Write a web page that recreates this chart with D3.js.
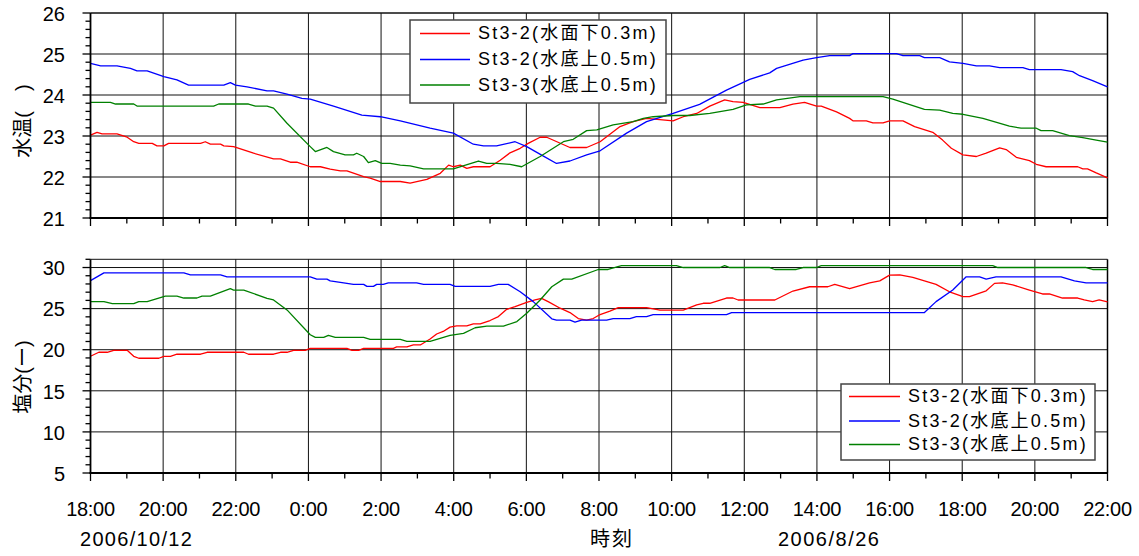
<!DOCTYPE html>
<html><head><meta charset="utf-8">
<script src="https://cdn.jsdelivr.net/npm/d3@7/dist/d3.min.js"></script>
<style>body{margin:0;background:#fff}text{font-family:"Liberation Sans","Noto Sans CJK JP",Arial,sans-serif;fill:#000}</style>
</head><body><svg id="c" width="1139" height="556"></svg>
<script>
// ---- data (x = hours after 18:00 on the first day) ----
const xTickLabels = ["18:00","20:00","22:00","0:00","2:00","4:00","6:00","8:00","10:00","12:00","14:00","16:00","18:00","20:00","22:00"];
const dateLabels = ["2006/10/12","時刻","2006/8/26"];
const seriesNames = ["St3-2(水面下0.3m)","St3-2(水底上0.5m)","St3-3(水底上0.5m)"];
const seriesColors = ["#ff0000","#0000ff","#008000"];
const yTitles = ["水温(　)","塩分(ー)"];
const tempTicks = [21,22,23,24,25,26];
const salTicks = [5,10,15,20,25,30];

const tempRed = [[0,23.02],[0.18,23.09],[0.32,23.05],[0.73,23.05],[1.01,22.97],[1.19,22.86],[1.33,22.82],[1.70,22.82],[1.83,22.76],[2.02,22.76],[2.15,22.82],[3.03,22.82],[3.16,22.86],[3.30,22.80],[3.58,22.80],[3.67,22.76],[3.94,22.74],[4.49,22.58],[5.04,22.44],[5.23,22.44],[5.50,22.36],[5.68,22.36],[6.05,22.25],[6.33,22.25],[6.60,22.19],[6.88,22.15],[7.06,22.15],[7.52,22.01],[7.70,21.97],[7.98,21.89],[8.53,21.89],[8.80,21.85],[9.26,21.94],[9.63,22.09],[9.86,22.29],[9.99,22.25],[10.18,22.29],[10.36,22.21],[10.54,22.25],[11.00,22.25],[11.28,22.41],[11.55,22.59],[11.83,22.70],[12.05,22.82],[12.38,22.97],[12.56,22.97],[13.20,22.72],[13.66,22.72],[14.03,22.86],[14.58,23.23],[14.94,23.35],[15.31,23.43],[16.04,23.37],[16.32,23.47],[16.69,23.55],[17.05,23.73],[17.46,23.88],[17.69,23.84],[17.97,23.82],[18.43,23.69],[18.98,23.69],[19.34,23.78],[19.66,23.82],[19.99,23.73],[20.12,23.73],[20.54,23.59],[20.90,23.43],[20.99,23.37],[21.36,23.37],[21.54,23.32],[21.82,23.32],[22.00,23.37],[22.37,23.37],[22.69,23.23],[23.19,23.09],[23.46,22.90],[23.70,22.70],[24.02,22.54],[24.39,22.50],[24.66,22.58],[25.03,22.71],[25.21,22.67],[25.49,22.48],[25.85,22.40],[26.04,22.31],[26.31,22.25],[27.18,22.25],[27.32,22.20],[27.45,22.20],[27.69,22.10],[28,21.98]];
const tempBlue = [[0,24.77],[0.28,24.71],[0.73,24.71],[1.10,24.65],[1.28,24.59],[1.56,24.59],[2.02,24.45],[2.38,24.37],[2.70,24.24],[3.67,24.24],[3.85,24.30],[3.99,24.24],[4.31,24.20],[4.86,24.10],[5.04,24.10],[5.41,24.02],[5.82,23.92],[6.05,23.90],[6.69,23.73],[7.47,23.51],[7.98,23.47],[8.53,23.37],[9.35,23.19],[9.99,23.07],[10.54,22.80],[10.82,22.76],[11.18,22.76],[11.69,22.86],[12.01,22.74],[12.47,22.51],[12.83,22.33],[13.20,22.39],[13.66,22.54],[14.03,22.64],[14.76,23.07],[15.31,23.35],[16.04,23.55],[16.77,23.77],[17.51,24.12],[18.15,24.38],[18.70,24.54],[18.89,24.65],[19.62,24.85],[19.99,24.91],[20.35,24.96],[20.90,24.96],[20.99,25.01],[22.19,25.01],[22.37,24.96],[22.83,24.96],[22.96,24.91],[23.38,24.91],[23.65,24.81],[24.02,24.77],[24.39,24.71],[24.75,24.71],[25.03,24.67],[25.67,24.67],[25.85,24.62],[26.72,24.62],[27.04,24.57],[27.23,24.47],[27.59,24.35],[28,24.20]];
const tempGreen = [[0,23.82],[0.55,23.82],[0.69,23.78],[1.19,23.78],[1.28,23.73],[3.39,23.73],[3.53,23.78],[4.35,23.78],[4.54,23.73],[4.86,23.73],[5.04,23.68],[5.41,23.31],[6.05,22.74],[6.19,22.62],[6.51,22.72],[6.69,22.62],[7.01,22.54],[7.24,22.54],[7.33,22.58],[7.52,22.50],[7.65,22.35],[7.84,22.40],[8.02,22.33],[8.25,22.33],[8.53,22.29],[8.80,22.27],[9.17,22.20],[9.99,22.20],[10.68,22.39],[10.91,22.33],[11.18,22.33],[11.55,22.31],[11.87,22.25],[12.38,22.50],[13.02,22.86],[13.29,22.92],[13.66,23.13],[13.94,23.15],[14.39,23.27],[14.94,23.35],[15.22,23.43],[15.49,23.47],[16.04,23.50],[16.50,23.50],[17.05,23.55],[17.69,23.65],[18.06,23.76],[18.52,23.78],[18.89,23.88],[19.53,23.96],[21.82,23.96],[22.09,23.90],[22.96,23.65],[23.38,23.63],[23.74,23.55],[24.02,23.53],[24.57,23.43],[25.30,23.24],[25.62,23.19],[26.04,23.19],[26.17,23.13],[26.49,23.13],[26.95,23.01],[27.32,22.96],[27.69,22.90],[28,22.85]];

const salRed = [[0,19.2],[0.23,19.69],[0.46,19.69],[0.64,19.93],[1.01,19.93],[1.19,19.20],[1.33,18.96],[1.88,18.96],[2.02,19.20],[2.20,19.20],[2.38,19.45],[3.03,19.45],[3.21,19.69],[4.22,19.69],[4.35,19.45],[5.04,19.45],[5.23,19.69],[5.41,19.69],[5.59,19.93],[5.91,19.93],[6.05,20.17],[7.06,20.17],[7.20,19.93],[7.38,19.93],[7.52,20.17],[8.34,20.17],[8.43,20.34],[8.71,20.34],[8.89,20.58],[9.08,20.58],[9.35,21.30],[9.53,21.91],[9.71,22.22],[9.90,22.75],[10.08,22.91],[10.36,22.91],[10.54,23.15],[10.73,23.15],[11.00,23.55],[11.23,24.03],[11.46,24.92],[11.69,25.24],[12.01,25.77],[12.24,26.05],[12.42,26.25],[12.60,25.85],[12.93,25.05],[13.20,24.52],[13.43,23.79],[13.66,23.60],[13.84,23.79],[14.03,24.28],[14.30,24.69],[14.53,25.12],[15.31,25.12],[15.68,24.81],[16.32,24.81],[16.69,25.45],[16.87,25.65],[17.05,25.65],[17.51,26.29],[17.69,26.29],[17.83,26.05],[18.84,26.05],[19.34,27.14],[19.80,27.66],[20.30,27.66],[20.49,27.95],[20.90,27.42],[21.45,28.14],[21.73,28.38],[22.00,29.07],[22.28,29.11],[22.64,28.79],[22.96,28.38],[23.28,27.95],[23.65,27.05],[24.02,26.45],[24.20,26.45],[24.66,27.17],[24.89,28.07],[25.11,28.14],[25.39,27.90],[25.85,27.26],[26.21,26.78],[26.40,26.78],[26.76,26.29],[27.18,26.29],[27.36,26.05],[27.59,25.85],[27.77,26.05],[28,25.81]];
const salBlue = [[0,28.4],[0.37,29.35],[2.57,29.35],[2.75,29.11],[3.58,29.11],[3.76,28.87],[6.05,28.87],[6.23,28.59],[6.51,28.59],[6.60,28.38],[6.97,28.14],[7.24,27.95],[7.52,27.95],[7.61,27.71],[7.79,27.71],[7.88,27.95],[8.06,27.95],[8.20,28.14],[8.98,28.14],[9.17,27.95],[9.90,27.95],[10.04,27.71],[11.00,27.71],[11.23,27.95],[11.50,27.95],[11.83,27.05],[12.19,25.85],[12.70,23.76],[12.83,23.60],[13.20,23.60],[13.34,23.36],[13.52,23.60],[14.21,23.60],[14.39,23.79],[14.85,23.79],[15.03,24.03],[15.31,24.03],[15.49,24.28],[17.51,24.28],[17.65,24.52],[22.96,24.52],[23.28,25.85],[23.74,27.26],[24.11,28.87],[24.48,28.87],[24.66,28.59],[24.93,28.87],[26.72,28.87],[27.09,28.38],[27.41,28.14],[28,28.14]];
const salGreen = [[0,25.85],[0.37,25.85],[0.60,25.60],[1.19,25.60],[1.33,25.85],[1.56,25.85],[2.06,26.53],[2.38,26.53],[2.57,26.29],[2.93,26.29],[3.07,26.53],[3.30,26.53],[3.85,27.42],[3.94,27.26],[4.22,27.26],[4.86,26.25],[5.04,26.05],[5.41,24.84],[6.05,21.82],[6.19,21.50],[6.42,21.50],[6.55,21.74],[6.74,21.50],[7.52,21.50],[7.70,21.26],[8.53,21.26],[8.71,21.02],[9.35,21.02],[9.90,21.74],[10.27,21.98],[10.59,22.67],[10.91,22.87],[11.37,22.87],[11.74,23.43],[12.01,24.44],[12.38,26.05],[12.70,27.66],[13.02,28.59],[13.25,28.59],[13.98,29.76],[14.25,29.76],[14.62,30.24],[16.13,30.24],[16.32,30.0],[17.33,30.0],[17.46,30.24],[17.60,30.0],[18.70,30.0],[18.84,29.76],[19.43,29.76],[19.62,30.0],[19.99,30.0],[20.12,30.24],[24.84,30.24],[24.98,30.0],[27.41,30.0],[27.59,29.76],[28,29.76]];

// ---- drawing ----
const svg = d3.select("#c");
const x = d3.scaleLinear().domain([0,28]).range([90.5,1107.5]);
const panels = [
  {y: d3.scaleLinear().domain([21,26]).range([218,13]), major: tempTicks, minorStep: 0.2, data:[tempRed,tempBlue,tempGreen], title: yTitles[0], titleY: 121,
   legend:{x0:410,y0:20,x1:666,y1:103,rows:[33.5,59.5,85],lx0:420,lx1:470,tx:478}},
  {y: d3.scaleLinear().domain([5,31]).range([473,259.3]), major: salTicks, minorStep: 1, data:[salRed,salBlue,salGreen], title: yTitles[1], titleY: 377,
   legend:{x0:841,y0:384,x1:1095,y1:460,rows:[396.5,421,444.5],lx0:849,lx1:900,tx:908}}
];

panels.forEach((p, pi) => {
  const y = p.y;
  const [yMin, yMax] = y.domain();
  const g = svg.append("g");
  // grid
  const hours = d3.range(0, 29, 2);
  g.selectAll(".vg").data(hours.slice(1, -1)).join("line")
    .attr("x1", d => x(d)).attr("x2", d => x(d)).attr("y1", y(yMax)).attr("y2", y(yMin))
    .attr("stroke", "#111").attr("stroke-width", 1);
  g.selectAll(".hg").data(p.major.filter(v => v > yMin).concat([yMax])).join("line")
    .attr("x1", x(0)).attr("x2", x(28)).attr("y1", d => y(d)).attr("y2", d => y(d))
    .attr("stroke", "#111").attr("stroke-width", 1);
  // right border
  g.append("line").attr("x1", x(28)).attr("x2", x(28)).attr("y1", y(yMax)).attr("y2", y(yMin))
    .attr("stroke", "#000").attr("stroke-width", 1.5);
  // series
  const line = d3.line().x(d => x(d[0])).y(d => y(d[1]));
  p.data.forEach((s, i) => {
    g.append("path").datum(s).attr("d", line).attr("fill", "none")
      .attr("stroke", seriesColors[i]).attr("stroke-width", 1.3).attr("stroke-linejoin", "round");
  });
  // y axis
  const minor = d3.range(yMin, yMax + 1e-9, p.minorStep).map(v => +v.toFixed(3));
  g.selectAll(".ymt").data(minor).join("line")
    .attr("x1", x(0) - (p.major.includes(Math.round(1000*0)/1000) ? 0 : 0)).attr("x2", d => x(0) - (p.major.some(m => Math.abs(m - d) < 1e-6) ? 8 : 5))
    .attr("y1", d => y(d)).attr("y2", d => y(d)).attr("stroke", "#000").attr("stroke-width", 1.3);
  g.append("line").attr("x1", x(0)).attr("x2", x(0)).attr("y1", y(yMax)).attr("y2", y(yMin) + 0.5)
    .attr("stroke", "#000").attr("stroke-width", 1.8);
  g.selectAll(".ytl").data(p.major).join("text")
    .attr("x", 65).attr("y", d => y(d) + 2.5).attr("text-anchor", "end").attr("dominant-baseline", "middle")
    .attr("font-size", 20).text(d => d);
  // x axis
  g.append("line").attr("x1", x(0) - 1).attr("x2", x(28)).attr("y1", y(yMin)).attr("y2", y(yMin))
    .attr("stroke", "#000").attr("stroke-width", 1.8);
  g.selectAll(".xt").data(d3.range(0, 29)).join("line")
    .attr("x1", d => x(d)).attr("x2", d => x(d)).attr("y1", y(yMin)).attr("y2", d => y(yMin) + (d % 2 === 0 ? 8 : 5.5))
    .attr("stroke", "#000").attr("stroke-width", 1.3);
  // y title
  g.append("text").attr("transform", `translate(25,${p.titleY}) rotate(-90)`)
    .attr("text-anchor", "middle").attr("dominant-baseline", "middle").attr("font-size", 20).text(p.title);
  // legend
  const L = p.legend;
  const lg = svg.append("g");
  lg.append("rect").attr("x", L.x0).attr("y", L.y0).attr("width", L.x1 - L.x0).attr("height", L.y1 - L.y0)
    .attr("fill", "#fff").attr("stroke", "#444").attr("stroke-width", 1.5);
  seriesNames.forEach((n, i) => {
    lg.append("line").attr("x1", L.lx0).attr("x2", L.lx1).attr("y1", L.rows[i]).attr("y2", L.rows[i])
      .attr("stroke", seriesColors[i]).attr("stroke-width", 1.3);
    lg.append("text").attr("x", L.tx).attr("y", L.rows[i] + 1).attr("dominant-baseline", "middle")
      .attr("font-size", 18).attr("letter-spacing", 2.2).text(n);
  });
  // x labels on bottom panel
  if (pi === 1) {
    svg.selectAll(".xtl").data(xTickLabels).join("text")
      .attr("x", (d, i) => x(i * 2)).attr("y", 516).attr("text-anchor", "middle")
      .attr("font-size", 20).attr("letter-spacing", -0.3).text(d => d);
    const dl = [[80, 1.3], [590, 2], [778, 1.5]];
    svg.selectAll(".dtl").data(dateLabels).join("text")
      .attr("x", (d, i) => dl[i][0]).attr("y", 546).attr("letter-spacing", (d, i) => dl[i][1])
      .attr("font-size", 20).text(d => d);
  }
});
</script></body></html>
